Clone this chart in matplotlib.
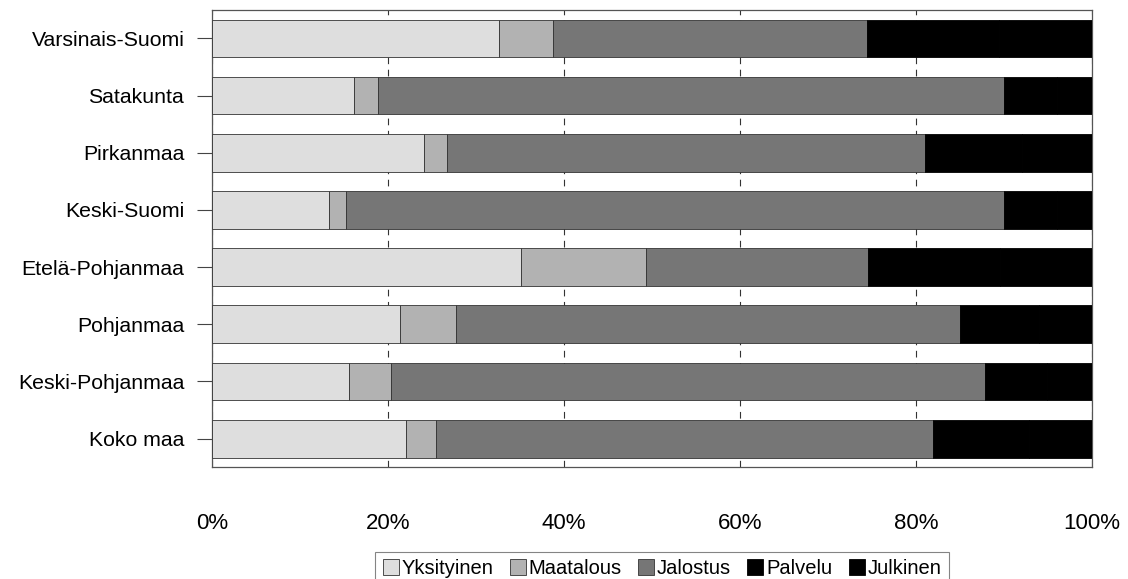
import matplotlib
matplotlib.use("Agg")
import matplotlib.pyplot as plt
import numpy as np

plt.rcParams['font.family'] = ['Liberation Sans', 'DejaVu Sans']

# alueet ylhäältä alas
regions = ["Varsinais-Suomi", "Satakunta", "Pirkanmaa", "Keski-Suomi",
           "Etelä-Pohjanmaa", "Pohjanmaa", "Keski-Pohjanmaa", "Koko maa"]

# osuudet (%), luettu kuvasta
yksityinen = [32.6, 16.1, 24.1, 13.3, 35.1, 21.4, 15.6, 22.0]
maatalous = [6.2, 2.8, 2.6, 1.9, 14.2, 6.3, 4.7, 3.4]
jalostus = [35.6, 71.1, 54.3, 74.8, 25.2, 57.3, 67.6, 56.5]
# Palvelu ja Julkinen ovat molemmat mustia, rajaa ei erota kuvasta
palvelu = [15.0, 6.0, 11.0, 6.0, 15.0, 9.0, 7.0, 11.0]
julkinen = [10.6, 4.0, 8.0, 4.0, 10.5, 6.0, 5.1, 7.1]

series = [("Yksityinen", yksityinen, "#dedede", "#333333"),
          ("Maatalous", maatalous, "#b2b2b2", "#333333"),
          ("Jalostus", jalostus, "#767676", "#333333"),
          ("Palvelu", palvelu, "#000000", "#000000"),
          ("Julkinen", julkinen, "#000000", "#000000")]

fig = plt.figure(figsize=(11.28, 5.79), dpi=100)
ax = fig.add_axes([0.188, 0.193, 0.780, 0.790])

y = np.arange(len(regions))
left = np.zeros(len(regions))
for name, vals, col, ec in series:
    vals = np.array(vals)
    ax.barh(y, vals, left=left, height=0.66, color=col, edgecolor=ec,
            linewidth=0.6, label=name, zorder=3)
    left += vals

ax.set_xlim(0, 100)
ax.set_ylim(len(regions) - 0.5, -0.5)
ax.set_yticks(y)
ax.set_yticklabels(regions, fontsize=15.3)
ax.set_xticks([0, 20, 40, 60, 80, 100])
ax.set_xticklabels(["0%", "20%", "40%", "60%", "80%", "100%"], fontsize=16)
ax.tick_params(axis="x", length=0, pad=33)
ax.tick_params(axis="y", length=11, width=0.8, pad=9, color="#444444")
ax.xaxis.grid(True, color="#333333", linestyle=(0, (6, 5)), linewidth=0.8, zorder=0)
for s in ax.spines.values():
    s.set_linewidth(0.9)
    s.set_color("#555555")

leg = fig.legend(loc="lower center", bbox_to_anchor=(0.587, -0.028), ncol=5,
                 fontsize=14.5, frameon=True, fancybox=False, edgecolor="#666666",
                 handlelength=0.8, handleheight=0.8, handletextpad=0.15,
                 columnspacing=0.8, borderpad=0.35)
leg.get_frame().set_linewidth(0.8)

fig.savefig("out.png", dpi=100)
